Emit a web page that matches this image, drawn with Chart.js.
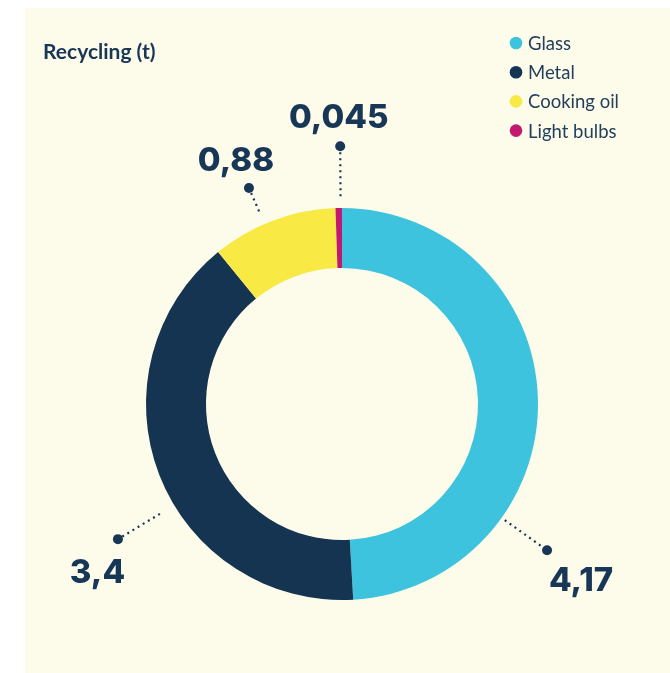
<!DOCTYPE html>
<html>
<head>
<meta charset="utf-8">
<script src="https://cdn.jsdelivr.net/npm/chart.js@4.4.1/dist/chart.umd.min.js"></script>
<style>
  html, body { margin: 0; padding: 0; background: #ffffff; }
  #wrap { position: relative; width: 670px; height: 673px; }
  canvas { display: block; }
</style>
</head>
<body>
<div id="wrap"><canvas id="c" width="670" height="673"></canvas></div>
<script>
// ---- data ----
const categories = ['Glass', 'Metal', 'Cooking oil', 'Light bulbs'];
const values = [4.17, 3.4, 0.88, 0.045];
const valueLabels = ['4,17', '3,4', '0,88', '0,045'];
const colors = ['#3dc3de', '#143452', '#f8e945', '#c2186f'];
const titleText = 'Recycling (t)';

// ---- callout styling (angle clockwise from top, radii relative to outer radius, label offset to baseline) ----
const callouts = [
  { angle: 125.5, r0: 1.02, r1: 1.285, dx: 34, dy: 41 },
  { angle: 238.9, r0: 1.085, r1: 1.335, dx: -20.5, dy: 44 },
  { angle: 336.7, r0: 1.07, r1: 1.20, dx: -13, dy: -17 },
  { angle: 359.6, r0: 1.06, r1: 1.315, dx: -1.5, dy: -18 }
];

const TEXT = '#183757';

const panelPlugin = {
  id: 'panel',
  beforeDraw(chart) {
    const ctx = chart.ctx;
    ctx.save();
    ctx.fillStyle = '#fdfcea';
    ctx.fillRect(25, 8, chart.width - 25, chart.height - 8);
    // title
    ctx.fillStyle = TEXT;
    ctx.font = 'bold 21px Lato';
    ctx.textBaseline = 'alphabetic';
    ctx.textAlign = 'left';
    ctx.fillText(titleText, 43, 59);
    // legend
    ctx.font = '18.5px Lato';
    categories.forEach((c, i) => {
      const y = 43 + i * 29.2;
      ctx.beginPath();
      ctx.fillStyle = colors[i];
      ctx.arc(516, y, 6.3, 0, Math.PI * 2);
      ctx.fill();
      ctx.fillStyle = '#223f5c';
      ctx.textBaseline = 'middle';
      ctx.fillText(c, 528, y + 1);
    });
    ctx.restore();
  }
};

const calloutPlugin = {
  id: 'callouts',
  afterDatasetsDraw(chart) {
    const ctx = chart.ctx;
    const meta = chart.getDatasetMeta(0);
    ctx.save();
    meta.data.forEach((arc, i) => {
      const cfg = callouts[i];
      const R = arc.outerRadius;
      const a = cfg.angle * Math.PI / 180;
      const sx = arc.x + Math.sin(a) * R * cfg.r0;
      const sy = arc.y - Math.cos(a) * R * cfg.r0;
      const ex = arc.x + Math.sin(a) * R * cfg.r1;
      const ey = arc.y - Math.cos(a) * R * cfg.r1;
      ctx.strokeStyle = TEXT;
      ctx.lineWidth = 2.2;
      ctx.lineCap = 'butt';
      ctx.setLineDash([2, 4]);
      ctx.beginPath();
      ctx.moveTo(sx, sy);
      ctx.lineTo(ex, ey);
      ctx.stroke();
      ctx.setLineDash([]);
      ctx.fillStyle = TEXT;
      ctx.beginPath();
      ctx.arc(ex, ey, 5, 0, Math.PI * 2);
      ctx.fill();
      ctx.font = '800 33px Inter';
      ctx.textAlign = 'center';
      ctx.textBaseline = 'alphabetic';
      ctx.fillText(valueLabels[i], ex + cfg.dx, ey + cfg.dy);
    });
    ctx.restore();
  }
};

new Chart(document.getElementById('c'), {
  type: 'doughnut',
  data: {
    labels: categories,
    datasets: [{
      data: values,
      backgroundColor: colors,
      borderWidth: 0,
      hoverOffset: 0
    }]
  },
  options: {
    responsive: false,
    animation: false,
    cutout: '69.4%',
    layout: { padding: { left: 146, right: 132, top: 208, bottom: 73 } },
    plugins: {
      legend: { display: false },
      title: { display: false },
      tooltip: { enabled: false }
    }
  },
  plugins: [panelPlugin, calloutPlugin]
});
</script>
</body>
</html>
